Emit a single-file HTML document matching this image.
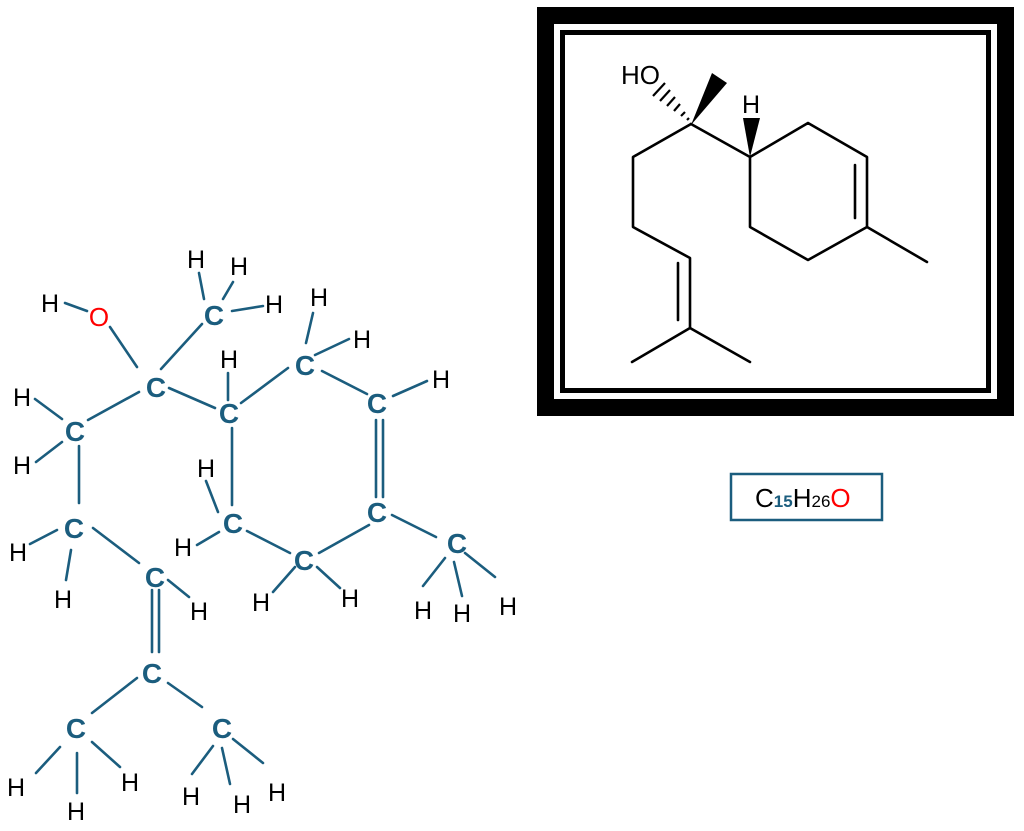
<!DOCTYPE html>
<html><head><meta charset="utf-8"><style>
html,body{margin:0;padding:0;background:#fff;width:1024px;height:831px;overflow:hidden}
svg{display:block}
</style></head><body>
<svg width="1024" height="831" viewBox="0 0 1024 831" xmlns="http://www.w3.org/2000/svg">
<rect x="537" y="7" width="477" height="409" fill="#000"/>
<rect x="554" y="24" width="443" height="375" fill="#fff"/>
<rect x="560" y="30" width="431" height="363" fill="#000"/>
<rect x="565" y="35" width="421" height="353" fill="#fff"/>
<g stroke="#000" stroke-width="2.6" fill="none" stroke-linecap="round" stroke-linejoin="round">
<polyline points="691,124 633,157 633,227 690,258 690,328 632,362"/>
<line x1="690" y1="328" x2="750" y2="362"/>
<line x1="678" y1="263" x2="678" y2="320"/>
<polyline points="691,124 750,157 808,123 867,157 867,227 808,260 750,227 750,157"/>
<line x1="855" y1="165" x2="855" y2="218"/>
<line x1="867" y1="227" x2="927" y2="262"/>
</g>
<polygon points="691,125 712,73 727,83" fill="#000"/>
<polygon points="750,157 743,118 760,118" fill="#000"/>
<g stroke="#000" stroke-width="2.2">
<line x1="687" y1="120" x2="689" y2="118"/>
<line x1="681" y1="116" x2="685" y2="112"/>
<line x1="674" y1="111" x2="680" y2="104"/>
<line x1="667" y1="106" x2="675" y2="97"/>
<line x1="660" y1="101" x2="670" y2="90"/>
<line x1="653" y1="96" x2="665" y2="83"/>
</g>
<text x="621" y="84" font-family="Liberation Sans, sans-serif" font-size="26">HO</text>
<text x="742" y="113" font-family="Liberation Sans, sans-serif" font-size="25">H</text>

<rect x="731" y="474" width="151" height="46" fill="#fff" stroke="#1b5d7e" stroke-width="2.5"/>
<text x="755" y="507" font-family="Liberation Sans, sans-serif" font-size="26"><tspan fill="#000">C</tspan><tspan fill="#1b5d7e" font-size="17" font-weight="bold">15</tspan><tspan fill="#000">H</tspan><tspan font-size="17" fill="#000">26</tspan><tspan fill="#ff0000">O</tspan></text>

<g stroke="#1b5d7e" stroke-width="2.6" stroke-linecap="round">
<line x1="65" y1="303" x2="87" y2="311"/>
<line x1="110" y1="327" x2="137" y2="367"/>
<line x1="161" y1="369" x2="202" y2="324"/>
<line x1="199" y1="273" x2="204" y2="299"/>
<line x1="233" y1="282" x2="223" y2="299"/>
<line x1="232" y1="311" x2="263" y2="306"/>
<line x1="88" y1="420" x2="139" y2="392"/>
<line x1="35" y1="399" x2="62" y2="419"/>
<line x1="36" y1="462" x2="62" y2="442"/>
<line x1="79" y1="446" x2="79" y2="503"/>
<line x1="169" y1="388" x2="215" y2="408"/>
<line x1="228" y1="373" x2="228" y2="400"/>
<line x1="241" y1="403" x2="288" y2="368"/>
<line x1="313" y1="313" x2="306" y2="343"/>
<line x1="315" y1="355" x2="349" y2="339"/>
<line x1="322" y1="371" x2="367" y2="394"/>
<line x1="393" y1="396" x2="427" y2="381"/>
<line x1="376" y1="420" x2="376" y2="497"/>
<line x1="383" y1="420" x2="383" y2="497"/>
<line x1="232" y1="428" x2="232" y2="505"/>
<line x1="206" y1="481" x2="218" y2="512"/>
<line x1="30" y1="544" x2="57" y2="530"/>
<line x1="71" y1="550" x2="66" y2="580"/>
<line x1="93" y1="528" x2="139" y2="563"/>
<line x1="168" y1="580" x2="189" y2="597"/>
<line x1="152" y1="590" x2="152" y2="652"/>
<line x1="159" y1="590" x2="159" y2="652"/>
<line x1="137" y1="678" x2="92" y2="713"/>
<line x1="168" y1="683" x2="202" y2="707"/>
<line x1="60" y1="747" x2="36" y2="773"/>
<line x1="77" y1="753" x2="77" y2="793"/>
<line x1="92" y1="742" x2="120" y2="767"/>
<line x1="213" y1="746" x2="192" y2="774"/>
<line x1="222" y1="748" x2="230" y2="784"/>
<line x1="233" y1="739" x2="263" y2="763"/>
<line x1="219" y1="532" x2="197" y2="545"/>
<line x1="247" y1="531" x2="290" y2="553"/>
<line x1="295" y1="567" x2="273" y2="592"/>
<line x1="317" y1="567" x2="340" y2="588"/>
<line x1="319" y1="553" x2="369" y2="525"/>
<line x1="392" y1="515" x2="436" y2="537"/>
<line x1="445" y1="558" x2="423" y2="586"/>
<line x1="454" y1="562" x2="462" y2="596"/>
<line x1="465" y1="553" x2="495" y2="577"/>
</g>
<g font-family="Liberation Sans, sans-serif" font-size="28" font-weight="bold" fill="#1b5d7e" text-anchor="middle">
<text x="214" y="325">C</text>
<text x="156" y="397">C</text>
<text x="75" y="441">C</text>
<text x="229" y="423">C</text>
<text x="305" y="375">C</text>
<text x="377" y="413">C</text>
<text x="377" y="522">C</text>
<text x="233" y="533">C</text>
<text x="74" y="538">C</text>
<text x="155" y="587">C</text>
<text x="152" y="683">C</text>
<text x="76" y="738">C</text>
<text x="222" y="738">C</text>
<text x="304" y="570">C</text>
<text x="457" y="553">C</text>
</g>
<text x="99" y="326" font-family="Liberation Sans, sans-serif" font-size="26" fill="#ff0000" text-anchor="middle">O</text>
<g font-family="Liberation Sans, sans-serif" font-size="25" fill="#000" text-anchor="middle">
<text x="50" y="312">H</text>
<text x="196" y="268">H</text>
<text x="239" y="275">H</text>
<text x="274" y="313">H</text>
<text x="22" y="406">H</text>
<text x="22" y="474">H</text>
<text x="229" y="368">H</text>
<text x="319" y="306">H</text>
<text x="362" y="348">H</text>
<text x="441" y="388">H</text>
<text x="206" y="477">H</text>
<text x="18" y="561">H</text>
<text x="63" y="608">H</text>
<text x="199" y="620">H</text>
<text x="183" y="556">H</text>
<text x="261" y="611">H</text>
<text x="350" y="607">H</text>
<text x="423" y="619">H</text>
<text x="462" y="622">H</text>
<text x="508" y="615">H</text>
<text x="16" y="796">H</text>
<text x="76" y="820">H</text>
<text x="130" y="791">H</text>
<text x="191" y="805">H</text>
<text x="242" y="813">H</text>
<text x="277" y="801">H</text>
</g>
</svg>
</body></html>
